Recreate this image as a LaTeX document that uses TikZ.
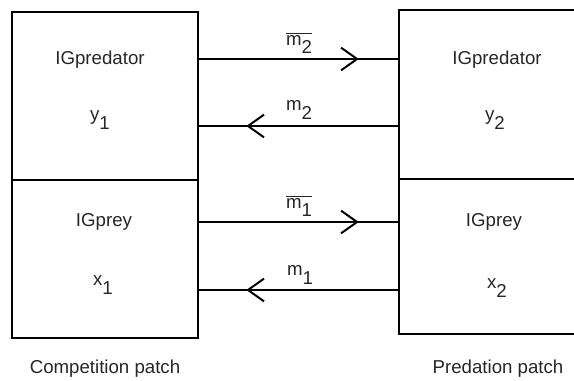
\documentclass[tikz,border=0pt]{standalone}
\usepackage{fontspec}
\setmainfont{Liberation Sans}
\usetikzlibrary{arrows.meta,decorations.markings}

\newcommand{\lowix}[1]{\raisebox{-0.85ex}{#1}}

\tikzset{
  patch/.style={draw, line width=1.5pt, anchor=north west, inner sep=0pt, outer sep=0pt},
  flow/.style={line width=1.5pt, postaction={decorate},
    decoration={markings, mark=at position #1 with {\arrow{Straight Barb[length=12pt,width=17pt]}}}},
  lbl/.style={inner sep=0.75pt, text=black!85, font=\fontsize{14}{16}\selectfont},
}

\begin{document}
\begin{tikzpicture}[x=0.75pt,y=0.75pt,yscale=-1,xscale=1]
\useasboundingbox (0,0) rectangle (574,381);

%Competition patch boxes
\node[patch, minimum width=139.5pt, minimum height=126pt] (predL) at (12,12) {};
\node[patch, minimum width=139.5pt, minimum height=118.5pt] (preyL) at (12,180) {};
%Predation patch boxes
\node[patch, minimum width=147pt, minimum height=126.75pt] (predR) at (399,10) {};
\node[patch, minimum width=147pt, minimum height=116.25pt] (preyR) at (399,179) {};

%Flows
\draw[flow=0.8]  (predL.east |- 0,59)  -- (predR.west |- 0,59);
\draw[flow=0.76] (predR.west |- 0,126) -- (predL.east |- 0,126);
\draw[flow=0.8]  (preyL.east |- 0,222) -- (preyR.west |- 0,222);
\draw[flow=0.76] (preyR.west |- 0,290) -- (preyL.east |- 0,290);

% Text Node
\node[lbl] (predLtxt) at (100,60) {IGpredator};
\node[lbl] (yL) at (100,120) {y\lowix{1}};
\node[lbl] (preyLtxt) at (104,222) {IGprey};
\node[lbl] (xL) at (103,285) {x\lowix{1}};
% Text Node
\node[lbl] (predRtxt) at (497,60) {IGpredator};
\node[lbl] (yR) at (495,120) {y\lowix{2}};
\node[lbl] (preyRtxt) at (494,222) {IGprey};
\node[lbl] (xR) at (497,288) {x\lowix{2}};
% Flow labels
\node[lbl] (mbartwo) at (299,43) {$\overline{\mbox{m\lowix{2}}}$};
\node[lbl] (mtwo) at (299,110) {m\lowix{2}};
\node[lbl] (mbarone) at (299,206) {$\overline{\mbox{m\lowix{1}}}$};
\node[lbl] (mone) at (300,275) {m\lowix{1}};
% Patch names
\node[lbl] (comp) at (105,369) {Competition patch};
\node[lbl] (pred) at (498,369) {Predation patch};

\end{tikzpicture}
\end{document}
